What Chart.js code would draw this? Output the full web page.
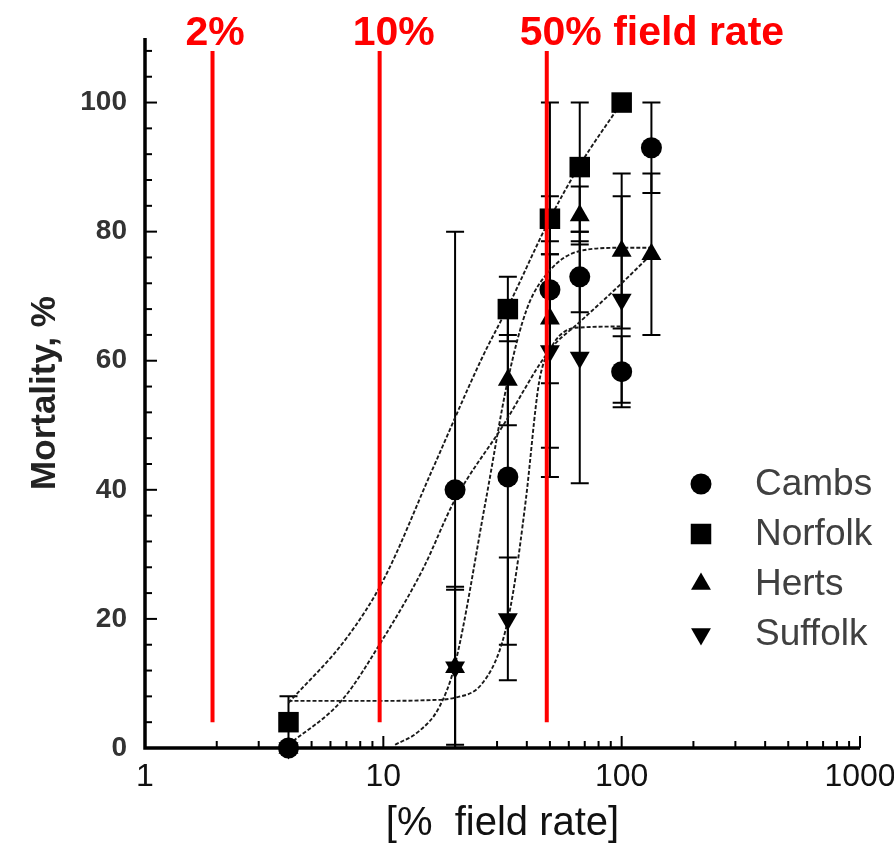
<!DOCTYPE html>
<html>
<head>
<meta charset="utf-8">
<script src="https://cdn.jsdelivr.net/npm/chart.js@4.4.1/dist/chart.umd.min.js"></script>
<style>
    html, body { margin: 0; padding: 0; background: #fff; }
    #wrap { width: 894px; height: 844px; }
</style>
</head>
<body>
<div id="wrap"><canvas id="chart" width="894" height="844"></canvas></div>
<script>
// doses, % of field rate
const doses = [4, 20, 33.3, 50, 66.7, 100, 133.3];

const seriesNames = ['Cambs', 'Norfolk', 'Herts', 'Suffolk'];
const cambs = [0, 40, 42, 71, 73, 58.3, 93];
const cambsErr = [0, 40, 26, 29, 5.5, 5.5, 7];
const norfolk = [4, null, 68, 82, 90, 100, null];
const norfolkErr = [4, null, 5, 3.5, 10, 0, null];
const herts = [0, 12.5, 57, 66.5, 82.5, 77, 76.5];
const hertsErr = [0, 12.5, 7, 10, 4.5, 12, 12.5];
const suffolk = [0, 12.5, 20, 61.5, 60.5, 69.5, null];
const suffolkErr = [0, 12, 9.5, 15, 19.5, 16, null];

// fitted curves
const fitNorfolkX = [4, 7, 10, 16, 26, 33.3, 50, 66.7, 100];
const fitNorfolkY = [7, 17, 26, 43, 60.5, 68.3, 82, 90.3, 100];
const fitCambsX = [4, 6.7, 10, 14.6, 20, 31.6, 50, 66.7, 100, 133.3];
const fitCambsY = [0.5, 7.4, 17, 27.6, 38.5, 49.8, 61.7, 66, 72, 76.5];
const fitHertsX = [11.2, 14, 17.2, 20, 26.8, 33.3, 40, 50, 66.7, 100, 133.3];
const fitHertsY = [0.5, 2.5, 6.4, 13, 38, 57, 68, 74, 77, 77.5, 77.5];
const fitSuffolkX = [4, 10, 15, 20, 26, 31.5, 35, 39.6, 45, 50, 64, 100];
const fitSuffolkY = [7.3, 7.3, 7.4, 7.8, 10, 16.3, 24, 38.4, 56.6, 61.7, 65.1, 65.3];

// red reference lines (as drawn on the picture)
const refRates = [1.92, 9.65, 48.5];
const refLabels = ['2%', '10%', '50% field rate'];
const refLineSpan = [4, 108];

const xTicks = [1, 10, 100, 1000];
const yTicks = [0, 20, 40, 60, 80, 100];

const FONT = '"Liberation Sans", Arial, sans-serif';

function pts(xs, ys, errs) {
    return xs.map((x, i) => ({ x: x, y: ys[i], e: errs ? errs[i] : null }))
        .filter(p => p.y !== null);
}

function markerSet(label, ys, errs, style, radius, rotation, order) {
    return {
        label: label,
        data: pts(doses, ys, errs),
        pointStyle: style,
        pointRadius: radius,
        pointRotation: rotation || 0,
        pointBackgroundColor: '#000',
        pointBorderWidth: 0,
        showLine: false,
        clip: false,
        order: order,
        isMarker: true
    };
}

function fitSet(xs, ys) {
    return {
        data: pts(xs, ys),
        showLine: true,
        pointRadius: 0,
        borderColor: '#1a1a1a',
        borderWidth: 1.9,
        borderDash: [4, 2],
        cubicInterpolationMode: 'monotone',
        order: 2
    };
}

const datasets = [
    markerSet(seriesNames[0], cambs, cambsErr, 'circle', 10.5, 0, 1.3),
    markerSet(seriesNames[1], norfolk, norfolkErr, 'rect', 14.5, 0, 1.2),
    markerSet(seriesNames[2], herts, hertsErr, 'triangle', 11.5, 0, 1),
    markerSet(seriesNames[3], suffolk, suffolkErr, 'triangle', 11.5, 180, 1.1),
    fitSet(fitNorfolkX, fitNorfolkY),
    fitSet(fitCambsX, fitCambsY),
    fitSet(fitHertsX, fitHertsY),
    fitSet(fitSuffolkX, fitSuffolkY)
];
refRates.forEach(r => {
    datasets.push({
        data: [{ x: r, y: refLineSpan[0] }, { x: r, y: refLineSpan[1] }],
        showLine: true,
        pointRadius: 0,
        borderColor: '#ff0000',
        borderWidth: 4,
        order: 0
    });
});

const extras = {
    id: 'extras',
    beforeDatasetsDraw(chart) {
        const ctx = chart.ctx;
        const xs = chart.scales.x, ys = chart.scales.y;
        const a = chart.chartArea;
        ctx.save();
        ctx.strokeStyle = '#000';
        // y axis with inward ticks
        ctx.lineWidth = 2;
        for (let v = 0; v <= 108; v += 4) {
            const y = ys.getPixelForValue(v);
            const len = v % 20 === 0 ? 12 : 7;
            ctx.beginPath(); ctx.moveTo(a.left, y); ctx.lineTo(a.left + len, y); ctx.stroke();
        }
        // x axis minor/major ticks
        for (let d = 1; d < 1000; d *= 10) {
            for (let m = 2; m <= 10; m++) {
                const x = xs.getPixelForValue(d * m);
                const len = m === 10 ? 12 : 7;
                ctx.beginPath(); ctx.moveTo(x, a.bottom); ctx.lineTo(x, a.bottom - len); ctx.stroke();
            }
        }
        ctx.lineWidth = 3.5;
        ctx.beginPath();
        ctx.moveTo(a.left, a.top); ctx.lineTo(a.left, a.bottom); ctx.lineTo(a.right, a.bottom);
        ctx.stroke();

        // error bars
        ctx.lineWidth = 2;
        chart.data.datasets.forEach(ds => {
            if (!ds.isMarker) return;
            ds.data.forEach(p => {
                if (!p.e) return;
                const x = xs.getPixelForValue(p.x);
                const yTop = ys.getPixelForValue(p.y + p.e);
                const yBot = ys.getPixelForValue(Math.max(0, p.y - p.e));
                ctx.beginPath();
                ctx.moveTo(x, yTop); ctx.lineTo(x, yBot);
                ctx.moveTo(x - 9, yTop); ctx.lineTo(x + 9, yTop);
                ctx.moveTo(x - 9, yBot); ctx.lineTo(x + 9, yBot);
                ctx.stroke();
            });
        });
        ctx.restore();
    },
    afterDraw(chart) {
        const ctx = chart.ctx;
        const xs = chart.scales.x;
        const a = chart.chartArea;
        ctx.save();
        // red labels over the reference lines
        ctx.fillStyle = '#ff0000';
        ctx.font = 'bold 41px ' + FONT;
        ctx.textAlign = 'left';
        ctx.textBaseline = 'alphabetic';
        refRates.forEach((r, i) => {
            ctx.fillText(refLabels[i], xs.getPixelForValue(r) - 27, 45);
        });
        // legend
        ctx.font = '37px ' + FONT;
        ctx.textBaseline = 'middle';
        chart.data.datasets.filter(ds => ds.isMarker).forEach((ds, i) => {
            const x = a.left + 556;
            const y = a.top + 446 + i * 50;
            ctx.fillStyle = '#000';
            Chart.helpers.drawPoint(ctx, {
                pointStyle: ds.pointStyle, radius: ds.pointRadius,
                rotation: ds.pointRotation, borderWidth: 0
            }, x, y);
            ctx.fillStyle = '#404040';
            ctx.fillText(ds.label, x + 54, y + 1);
        });
        ctx.restore();
    }
};

new Chart(document.getElementById('chart').getContext('2d'), {
    type: 'scatter',
    data: { datasets: datasets },
    options: {
        responsive: false,
        animation: false,
        devicePixelRatio: 1,
        layout: { padding: { top: 38, right: 34, left: 0, bottom: 0 } },
        plugins: { legend: { display: false }, tooltip: { enabled: false } },
        scales: {
            x: {
                type: 'logarithmic',
                min: 1,
                max: 1000,
                grid: { display: false, drawTicks: false },
                border: { display: false },
                afterBuildTicks: s => { s.ticks = xTicks.map(v => ({ value: v })); },
                afterFit: s => { s.height = 96; s.paddingLeft = 0; s.paddingRight = 0; },
                ticks: {
                    autoSkip: false,
                    maxRotation: 0,
                    padding: 10,
                    color: '#111',
                    font: { family: FONT, size: 32 },
                    callback: v => String(v)
                },
                title: {
                    display: true,
                    text: '[%  field rate]',
                    color: '#111',
                    font: { family: FONT, size: 40 },
                    padding: { top: 0, bottom: -4 }
                }
            },
            y: {
                min: 0,
                max: 110,
                grid: { display: false, drawTicks: false },
                border: { display: false },
                afterBuildTicks: s => { s.ticks = yTicks.map(v => ({ value: v })); },
                afterFit: s => { s.width = 145; s.paddingTop = 0; s.paddingBottom = 0; },
                ticks: {
                    padding: 18,
                    color: '#333',
                    font: { family: FONT, size: 28, weight: 'bold' }
                },
                title: {
                    display: true,
                    text: 'Mortality, %',
                    color: '#222',
                    font: { family: FONT, size: 35, weight: 'bold' },
                    padding: { top: 24, bottom: 0 }
                }
            }
        }
    },
    plugins: [extras]
});
</script>
</body>
</html>
